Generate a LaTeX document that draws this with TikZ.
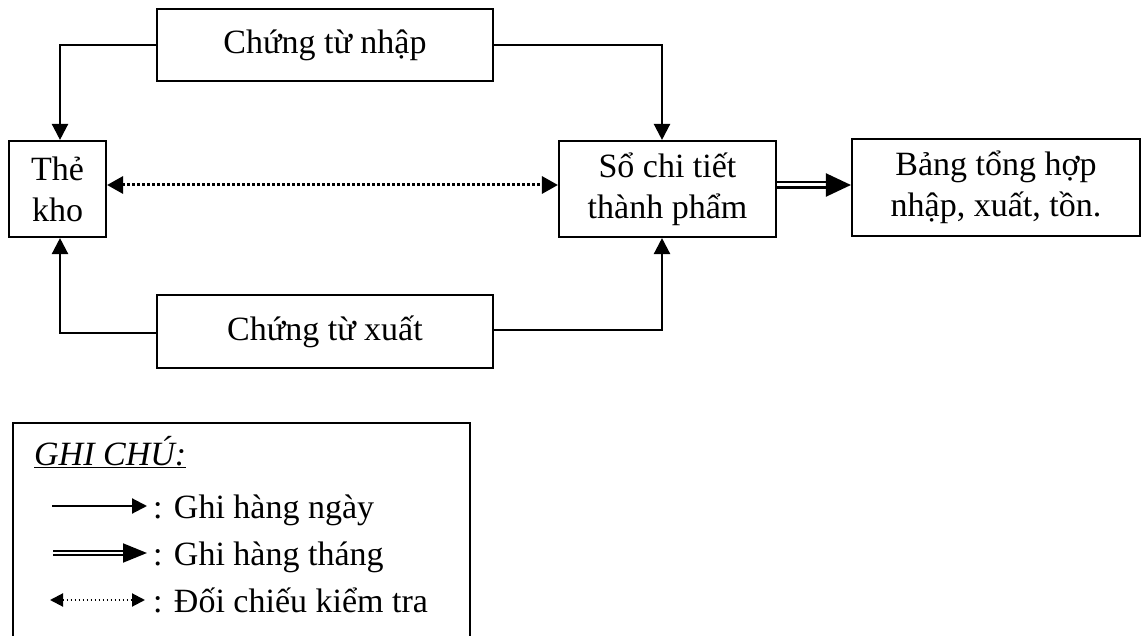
\documentclass[tikz,border=0pt]{standalone}
\usepackage{fontspec}
\setmainfont{Liberation Serif}
\usetikzlibrary{arrows.meta}

\begin{document}
\begin{tikzpicture}[x=1pt,y=-1pt,
  every node/.style={font=\fontsize{34}{41}\selectfont},
  box/.style={draw, line width=2.1pt, inner sep=0pt, align=center},
  flow/.style={line width=2.3pt, -{Triangle[length=16pt,width=16pt]}},
  check/.style={line width=3pt, dash pattern=on 2.6pt off 2.4pt,
    {Triangle[length=16pt,width=17pt]}-{Triangle[length=16pt,width=17pt]}},
  monthly/.style={double, double distance=3pt, line width=2.1pt,
    -{Triangle[length=25pt,width=23pt]}},
  legtext/.style={anchor=base west, inner sep=0pt}]
\useasboundingbox (0,0) rectangle (1144,636);
\clip (0,0) rectangle (1144,636);
\fill[white] (0,0) rectangle (1144,636);

% documents and ledgers
\node[box, minimum width=336pt, minimum height=72pt] (ctn) at (325,45) {Chứng từ nhập};
\node[box, minimum width=97pt, minimum height=96pt] (tk) at (57.5,189) {Thẻ\\kho};
\node[box, minimum width=217pt, minimum height=96pt] (so) at (667.5,189) {Sổ chi tiết\\thành phẩm};
\node[box, minimum width=288pt, minimum height=97pt] (bth) at (996,187.5) {Bảng tổng hợp\\nhập, xuất, tồn.};
\node[box, minimum width=336pt, minimum height=73pt] (ctx) at (325,331.5) {Chứng từ xuất};

% daily postings
\draw[flow] (ctn.west) -| ([xshift=2.5pt]tk.north);
\draw[flow] (ctn.east) -| ([xshift=-5.5pt]so.north);
\draw[flow] ([yshift=-1.5pt]ctx.west) -| ([xshift=2.5pt]tk.south);
\draw[flow] ([yshift=1.5pt]ctx.east) -| ([xshift=-5.5pt]so.south);

% cross-check and monthly summary
\draw[check] ([yshift=4pt]tk.east) coordinate (c0) -- (c0 -| so.west);
\draw[monthly] ([yshift=4pt]so.east) coordinate (d0) -- (d0 -| bth.west);

% legend frame
\draw[line width=2.1pt] (13,650) -- (13,423) -- (470,423) -- (470,650);
\node[legtext] (lhead) at (34,465) {\underline{\textit{GHI CHÚ:}}};

\coordinate (a1) at (52,506);  \coordinate (b1) at (147,506);
\coordinate (a2) at (53,553);  \coordinate (b2) at (147,553);
\coordinate (a3) at (50,600);  \coordinate (b3) at (145,600);
\draw[line width=2.1pt, -{Triangle[length=15pt,width=15pt]}] (a1) -- (b1);
\draw[double, double distance=2.6pt, line width=1.9pt, -{Triangle[length=24pt,width=19pt]}] (a2) -- (b2);
\draw[line width=2pt, dash pattern=on 1.8pt off 2.2pt,
  {Triangle[length=13pt,width=13pt]}-{Triangle[length=13pt,width=13pt]}] (a3) -- (b3);
\node[legtext] (l1) at (153,518) {: Ghi hàng ngày};
\node[legtext] (l2) at (153,565) {: Ghi hàng tháng};
\node[legtext] (l3) at (153,612) {: Đối chiếu kiểm tra};
\end{tikzpicture}
\end{document}
